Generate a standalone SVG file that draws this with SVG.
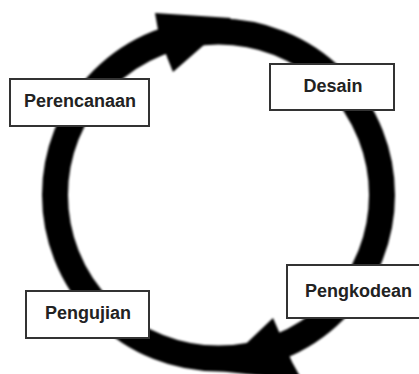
<svg xmlns="http://www.w3.org/2000/svg" width="419" height="374" viewBox="0 0 419 374">
<defs>
<filter id="soft" x="-10%" y="-10%" width="120%" height="120%"><feGaussianBlur stdDeviation="0.8"/></filter>
</defs>
<style>
.ring{fill:none;stroke:#000;stroke-width:26}
.head{fill:#000;stroke:none}
.box rect{fill:#fff;stroke:#333;stroke-width:2}
.box text{font-family:"Liberation Sans",Arial,sans-serif;font-weight:bold;font-size:18px;fill:#222;text-anchor:middle}
</style>
<rect width="419" height="374" fill="#fff"/>
<g id="connectors" filter="url(#soft)">
<circle class="ring" cx="218.5" cy="195" r="163.5"/>
<polygon class="head" points="155,13 231,18 205,44 173,72 167,57 158,30"/>
<polygon class="head" points="273,318 280,334 292,362 302,380 218,371 253,337"/>
</g>
<g id="perencanaan" class="box">
<rect x="10" y="79" width="139" height="47"/>
<text x="80" y="107">Perencanaan</text>
</g>
<g id="desain" class="box">
<rect x="270" y="64" width="124" height="46"/>
<text x="333" y="92">Desain</text>
</g>
<g id="pengkodean" class="box">
<rect x="287" y="265" width="145" height="53"/>
<text x="358.5" y="297">Pengkodean</text>
</g>
<g id="pengujian" class="box">
<rect x="26" y="291" width="123" height="47"/>
<text x="88" y="319">Pengujian</text>
</g>
</svg>
